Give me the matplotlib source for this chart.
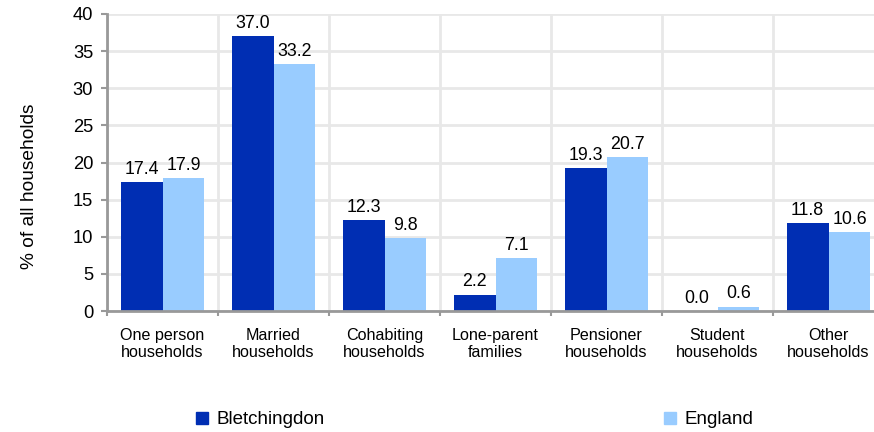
import numpy as np
import matplotlib.pyplot as plt
from matplotlib.patches import Patch

plt.rcParams['font.family'] = ['Liberation Sans', 'DejaVu Sans']

# dados do gráfico
categorias = ['One person\nhouseholds', 'Married\nhouseholds', 'Cohabiting\nhouseholds',
              'Lone-parent\nfamilies', 'Pensioner\nhouseholds', 'Student\nhouseholds',
              'Other\nhouseholds']
bletchingdon = [17.4, 37.0, 12.3, 2.2, 19.3, 0.0, 11.8]
england = [17.9, 33.2, 9.8, 7.1, 20.7, 0.6, 10.6]
series_nomes = ['Bletchingdon', 'England']
cores = ['#002EB3', '#99CCFF']
yticks = [0, 5, 10, 15, 20, 25, 30, 35, 40]

fig = plt.figure(figsize=(8.74, 4.32), dpi=100)
ax = fig.add_axes([107 / 874, 1 - 311 / 432, 777 / 874, 297 / 432])

x = np.arange(len(categorias))
w = 0.378
b1 = ax.bar(x - w / 2, bletchingdon, w, color=cores[0], zorder=3)
b2 = ax.bar(x + w / 2, england, w, color=cores[1], zorder=3)
for barras in (b1, b2):
    ax.bar_label(barras, fmt='%.1f', padding=3, fontsize=12.8)

ax.set_xlim(-0.5, len(categorias) - 0.5)
ax.set_ylim(0, 40)
ax.set_yticks(yticks)
ax.set_xticks(x)
ax.set_xticklabels(categorias, fontsize=11.6)
ax.set_xticks(np.arange(len(categorias) + 1) - 0.5, minor=True)

ax.tick_params(axis='x', which='major', length=0, pad=12)
ax.tick_params(axis='x', which='minor', length=3.5, width=1.5, color='#999999')
ax.tick_params(axis='y', length=4.5, width=1.5, color='#999999', labelsize=13.2, pad=5.5)

ax.grid(True, axis='y', which='major', color='#e8e8e8', lw=2, zorder=0)
ax.grid(True, axis='x', which='minor', color='#e8e8e8', lw=2, zorder=0)

for lado in ['top', 'right']:
    ax.spines[lado].set_visible(False)
for lado in ['left', 'bottom']:
    ax.spines[lado].set_color('#999999')
    ax.spines[lado].set_linewidth(2)
    ax.spines[lado].set_zorder(4)

ax.set_ylabel('% of all households', fontsize=13.8)
ax.yaxis.set_label_coords(-69 / 777, 0.42)

# legenda: um item de cada lado
posicoes_leg = [187 / 874, 655 / 874]
for cor, nome, px in zip(cores, series_nomes, posicoes_leg):
    fig.legend(handles=[Patch(color=cor, label=nome)], loc='center left',
               bbox_to_anchor=(px, 1 - 420 / 432), frameon=False, fontsize=13.5,
               borderpad=0, handlelength=0.6, handleheight=0.6, handletextpad=0.45)

plt.savefig('out.png', dpi=100)
